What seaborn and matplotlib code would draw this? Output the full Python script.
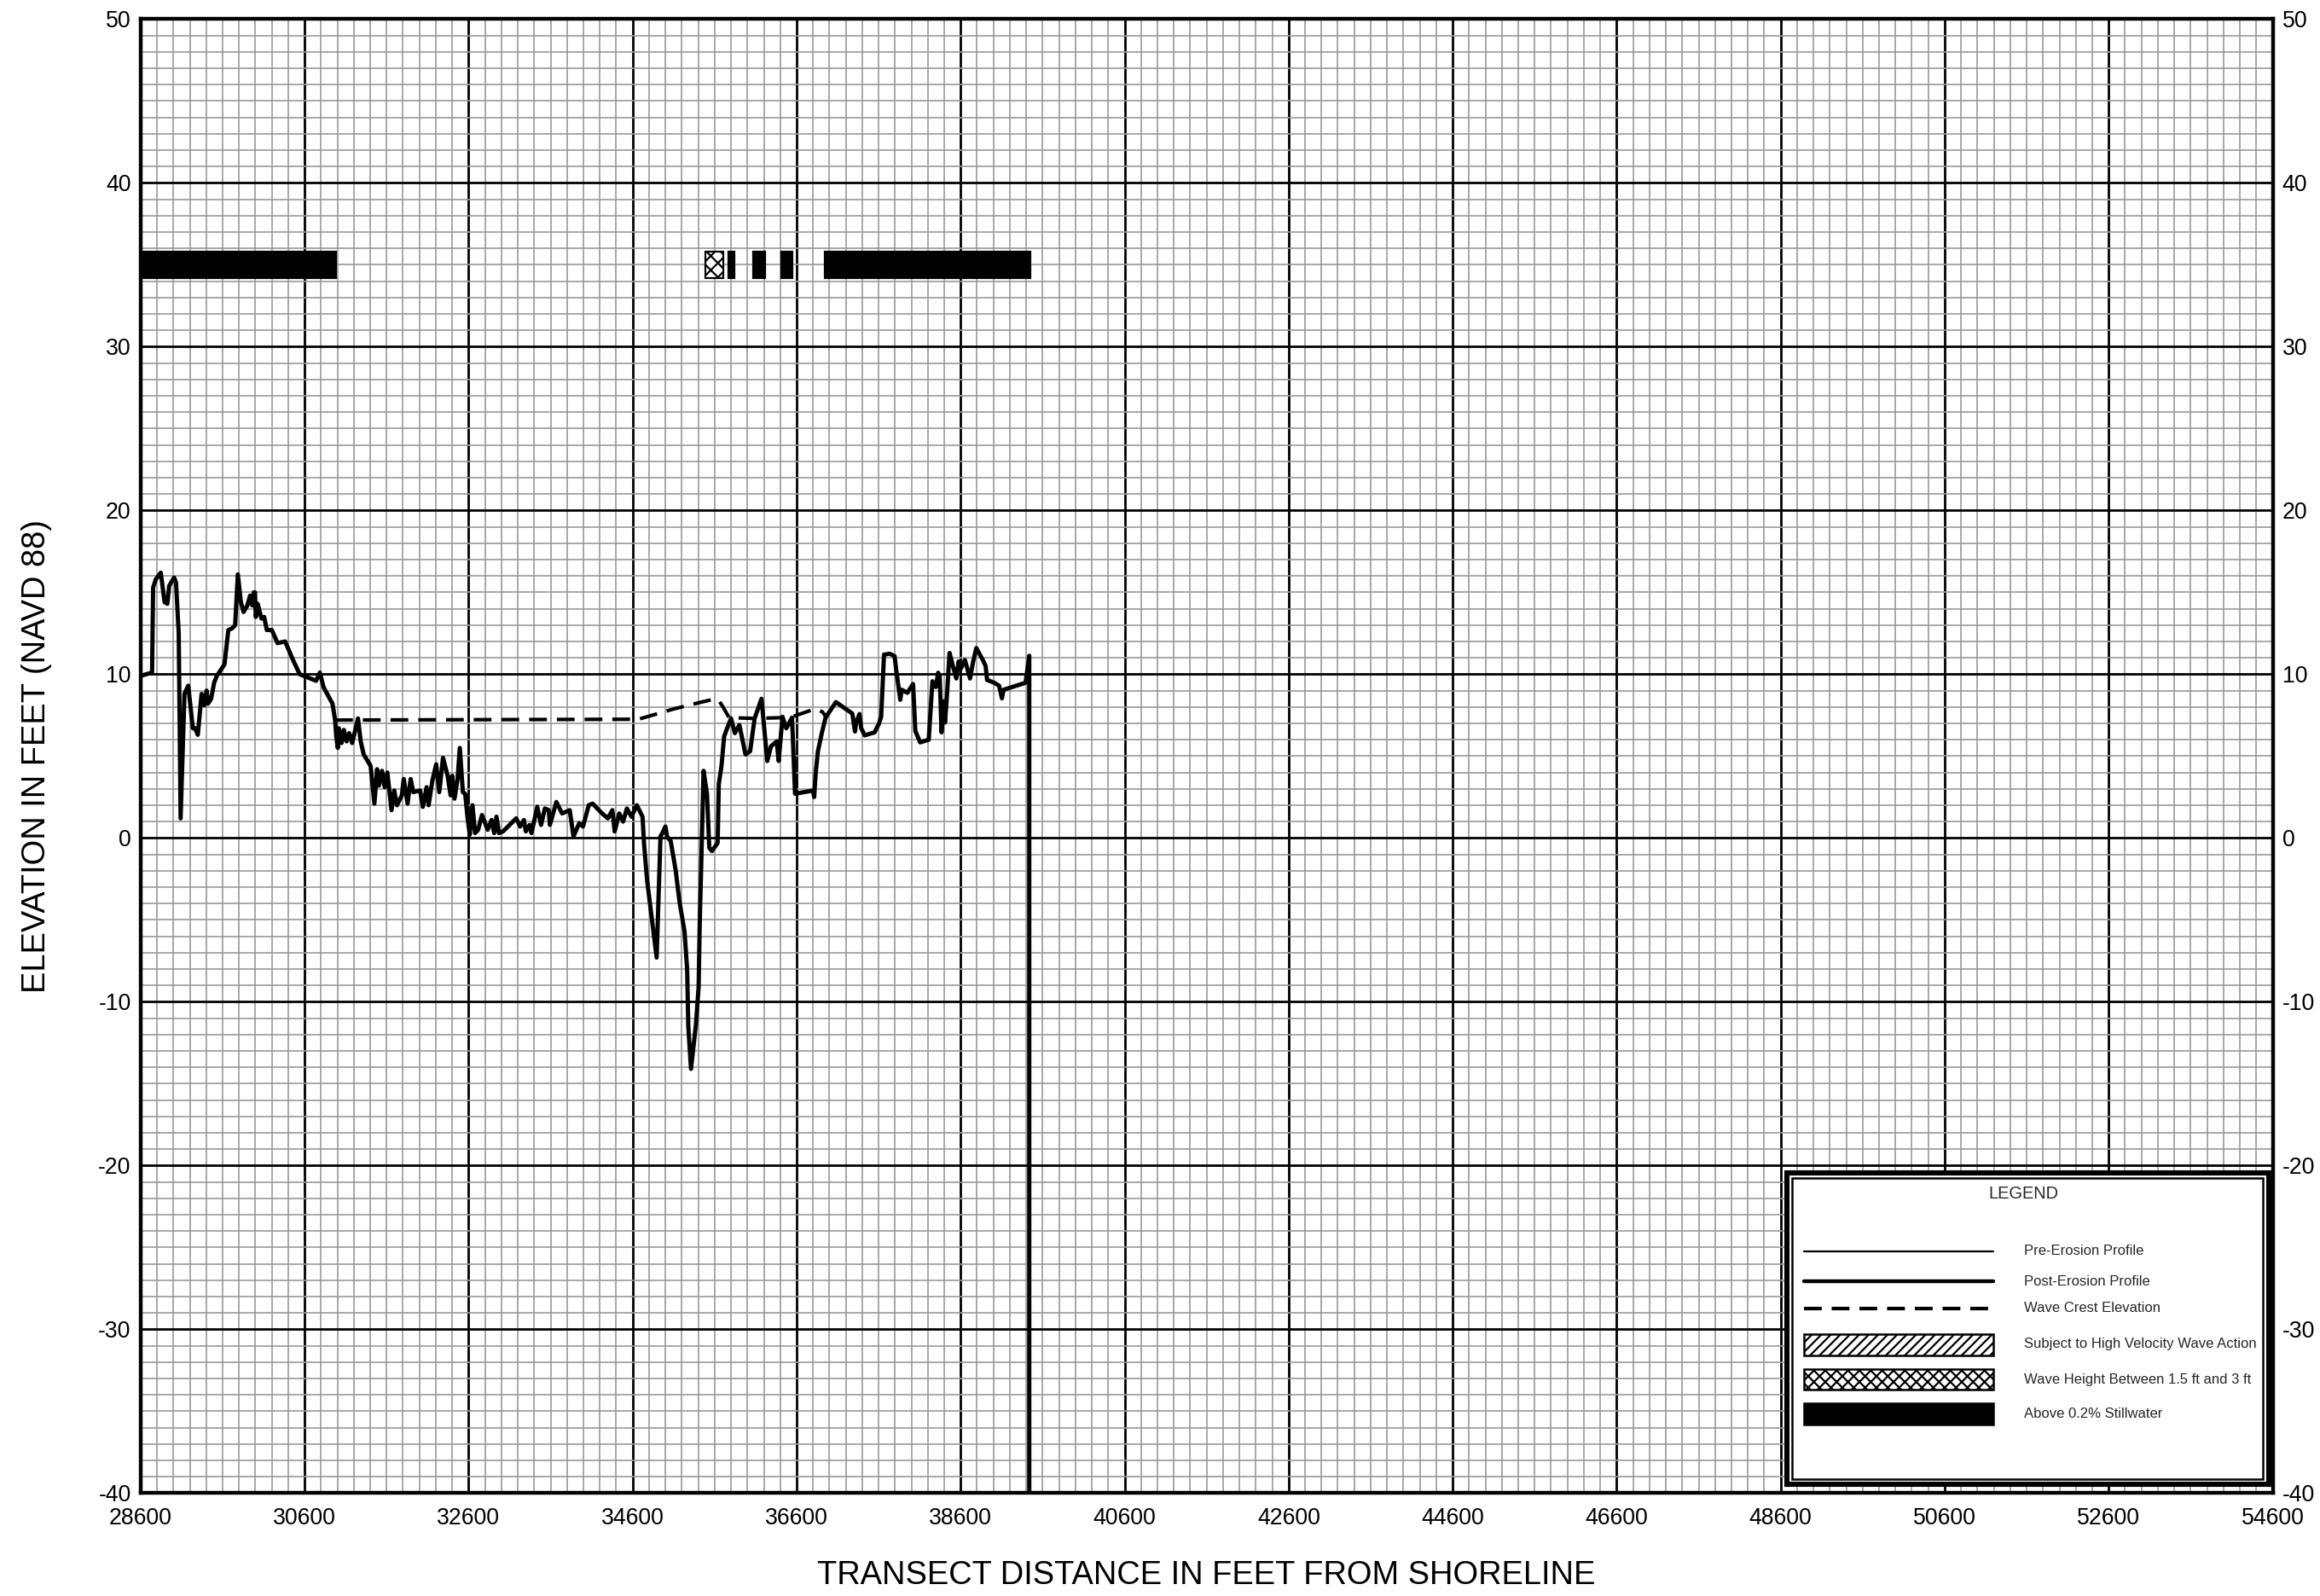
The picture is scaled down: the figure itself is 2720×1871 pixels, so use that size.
import numpy as np
import pandas as pd
import matplotlib
matplotlib.use("Agg")
import matplotlib.pyplot as plt
from matplotlib.ticker import MultipleLocator
from matplotlib.patches import Rectangle
import seaborn as sns

# --- data ---
profile_x = [
    28600, 28740, 28753, 28786, 28846, 28893, 28926, 28949, 29009, 29032,
    29065, 29088, 29135, 29181, 29237, 29265, 29298, 29344, 29377, 29405,
    29423, 29460, 29498, 29530, 29623, 29670, 29716, 29753, 29786, 29823,
    29856, 29902, 29935, 29963, 29981, 29995, 30005, 30028, 30074, 30107,
    30139, 30200, 30270, 30363, 30456, 30540, 30740, 30786, 30832, 30940,
    30972, 30986, 31005, 31019, 31051, 31079, 31112, 31144, 31180, 31251,
    31284, 31321, 31405, 31451, 31484, 31507, 31544, 31577, 31609, 31660,
    31693, 31726, 31786, 31809, 31856, 31893, 31926, 32009, 32042, 32088,
    32112, 32158, 32205, 32242, 32288, 32344, 32381, 32400, 32428, 32465,
    32493, 32530, 32558, 32586, 32614, 32647, 32679, 32716, 32763, 32833,
    32880, 32912, 32940, 32970, 33019, 33181, 33228, 33274, 33298, 33344,
    33367, 33437, 33484, 33530, 33577, 33591, 33670, 33740, 33833, 33879,
    33949, 33995, 34065, 34112, 34228, 34298, 34353, 34381, 34437, 34484,
    34530, 34586, 34651, 34721, 34740, 34777, 34893, 34940, 34963, 35000,
    35020, 35065, 35126, 35172, 35233, 35265, 35279, 35312, 35372, 35405,
    35419, 35437, 35465, 35507, 35535, 35567, 35637, 35651, 35684, 35716,
    35753, 35800, 35847, 35902, 35977, 36033, 36088, 36172, 36242, 36288,
    36358, 36381, 36428, 36474, 36544, 36581, 36800, 36814, 36833, 36860,
    36907, 36953, 37079, 37279, 37312, 37326, 37367, 37388, 37430, 37551,
    37603, 37631, 37666, 37736, 37795, 37812, 37864, 37881, 37951, 38020,
    38048, 38107, 38211, 38256, 38298, 38326, 38345, 38367, 38395, 38409,
    38430, 38465, 38506, 38548, 38576, 38603, 38652, 38715, 38750, 38791,
    38871, 38905, 38923, 39010, 39069, 39104, 39124, 39392, 39437, 39437,
]
profile_y = [
    9.9, 10.1, 15.3, 15.8, 16.2, 14.4, 14.3, 15.4, 15.9, 15.6,
    12.5, 1.2, 8.8, 9.3, 6.7, 6.7, 6.3, 8.8, 8.1, 9.0,
    8.2, 8.5, 9.5, 9.9, 10.6, 12.7, 12.8, 13.0, 16.1, 14.4,
    13.8, 14.2, 14.8, 14.2, 15.0, 15.0, 13.5, 14.3, 13.4, 13.5,
    12.7, 12.7, 11.9, 12.0, 10.9, 10.0, 9.6, 10.1, 9.2, 8.2,
    7.2, 6.2, 5.5, 6.7, 5.8, 6.6, 5.9, 6.4, 5.8, 7.3,
    5.9, 5.1, 4.4, 2.1, 4.2, 3.2, 4.1, 3.1, 4.0, 1.7,
    2.9, 2.0, 2.6, 3.6, 2.1, 3.6, 2.8, 2.9, 1.9, 3.1,
    2.0, 3.5, 4.5, 2.8, 4.9, 3.8, 2.6, 3.8, 2.4, 3.6,
    5.5, 2.8, 2.7, 1.3, 0.2, 2.0, 0.3, 0.5, 1.4, 0.5,
    1.1, 0.3, 1.3, 0.3, 0.4, 1.2, 0.7, 1.1, 0.4, 0.8,
    0.3, 1.9, 0.8, 1.8, 1.7, 0.8, 2.2, 1.5, 1.7, 0.1,
    0.9, 0.7, 2.0, 2.1, 1.5, 1.2, 1.7, 0.4, 1.5, 1.0,
    1.8, 1.3, 2.0, 1.3, -0.4, -2.6, -7.3, 0.1, 0.3, 0.7,
    0.1, -0.2, -2.0, -3.9, -5.7, -8.0, -11.5, -14.1, -11.4, -9.1,
    -5.1, -1.6, 4.1, 2.7, -0.6, -0.8, -0.3, 3.3, 4.4, 6.2,
    6.7, 7.3, 6.4, 6.9, 5.1, 5.3, 7.3, 8.5, 4.7, 5.6,
    5.9, 4.7, 7.4, 6.7, 7.35, 2.7, 2.9, 2.5, 4.0, 5.3,
    6.4, 7.35, 8.3, 7.6, 6.5, 7.05, 7.57, 6.7, 6.27, 6.45,
    6.97, 7.4, 11.2, 11.25, 11.1, 10.35, 8.44, 9.05, 8.87, 9.4,
    6.53, 5.84, 6.0, 9.57, 9.22, 10.09, 9.9, 6.45, 8.35, 7.05,
    8.44, 11.3, 10.5, 9.74, 10.78, 10.35, 10.87, 9.74, 10.7, 11.6,
    10.87, 10.5, 9.65, 9.48, 9.3, 8.53, 9.05, 9.48, 11.13, -40.0,
]

wave_x = [30972, 34600, 34684, 35102, 35335, 35567, 35651, 35707, 35777,
          36088, 36428, 36544, 36823, 36916, 36963]
wave_y = [7.2, 7.25, 7.27, 7.88, 8.17, 8.45, 8.4, 7.96, 7.35,
          7.3, 7.35, 7.4, 7.88, 7.7, 7.35]

# zone bars along the top (start, end) in feet
stillwater_zones = [(28600, 30980), (35770, 35840), (36073, 36219),
                    (36410, 36545), (36941, 39448)]
wave_height_zones = [(35490, 35703)]
zone_bottom, zone_top = 34.2, 35.8

x_ticks = list(range(28600, 54601, 2000))
y_ticks = list(range(-40, 51, 10))

legend_labels = ["Pre-Erosion Profile", "Post-Erosion Profile", "Wave Crest Elevation",
                 "Subject to High Velocity Wave Action",
                 "Wave Height Between 1.5 ft and 3 ft", "Above 0.2% Stillwater"]

sns.set_theme(style="white")
plt.rcParams["font.family"] = ["Liberation Sans", "DejaVu Sans"]
plt.rcParams["axes.unicode_minus"] = False
plt.rcParams["hatch.linewidth"] = 0.8

fig = plt.figure(figsize=(13.6, 9.355), dpi=200)
ax = fig.add_axes([0.0606, 0.0645, 0.9190, 0.9235])

df_prof = pd.DataFrame({"x": profile_x, "y": profile_y})
df_wave = pd.DataFrame({"x": wave_x, "y": wave_y})

dash = (0, (5.0, 2.8))
sns.lineplot(data=df_prof, x="x", y="y", sort=False, estimator=None,
             color="black", linewidth=1.8, ax=ax, zorder=4)
sns.lineplot(data=df_wave, x="x", y="y", sort=False, estimator=None,
             color="black", linewidth=1.5, linestyle=dash, ax=ax, zorder=4)

for x0, x1 in stillwater_zones:
    ax.add_patch(Rectangle((x0, zone_bottom), x1 - x0, zone_top - zone_bottom,
                           facecolor="black", edgecolor="black", lw=0.8, zorder=5))
for x0, x1 in wave_height_zones:
    ax.add_patch(Rectangle((x0, zone_bottom), x1 - x0, zone_top - zone_bottom,
                           facecolor="white", edgecolor="black", hatch="xxxx",
                           lw=0.8, zorder=5))

ax.set_xlim(28600, 54600)
ax.set_ylim(-40, 50)
ax.set_xticks(x_ticks)
ax.set_yticks(y_ticks)
ax.xaxis.set_minor_locator(MultipleLocator(200))
ax.yaxis.set_minor_locator(MultipleLocator(1))
ax.set_axisbelow(True)
ax.grid(which="minor", color="#9a9a9a", linewidth=0.6)
ax.grid(which="major", color="black", linewidth=1.0)
ax.tick_params(which="both", length=0)
ax.tick_params(axis="x", labelsize=9.6, pad=6, colors="black")
ax.tick_params(axis="y", labelsize=9.6, pad=4, colors="black",
               left=True, right=True, labelleft=True, labelright=True)
for s in ax.spines.values():
    s.set_color("black")
    s.set_linewidth(1.6)

ax.set_xlabel("TRANSECT DISTANCE IN FEET FROM SHORELINE", fontsize=13.7, color="black")
ax.set_ylabel("ELEVATION IN FEET (NAVD 88)", fontsize=13.7, color="black")
ax.xaxis.label.set_va("center")
ax.yaxis.label.set_va("center")
ax.xaxis.set_label_coords(0.5, -0.056)
ax.yaxis.set_label_coords(-0.0487, 0.5)

# legend box drawn in axes fraction
T = ax.transAxes
ax.add_patch(Rectangle((0.772, 0.006), 0.226, 0.211, transform=T, facecolor="white",
                       edgecolor="black", lw=2.2, zorder=6))
ax.add_patch(Rectangle((0.7745, 0.0095), 0.221, 0.204, transform=T, facecolor="none",
                       edgecolor="black", lw=0.9, zorder=6))
ax.text(0.883, 0.203, "LEGEND", transform=T, fontsize=7.2, ha="center", va="center",
        zorder=7)
lx0, lx1, tx = 0.780, 0.869, 0.8835
ax.plot([lx0, lx1], [0.164, 0.164], transform=T, color="black", lw=0.8, zorder=7)
ax.plot([lx0, lx1], [0.1437, 0.1437], transform=T, color="black", lw=1.6, zorder=7)
ax.plot([lx0, lx1], [0.125, 0.125], transform=T, color="black", lw=1.5,
        linestyle=dash, zorder=7)
ax.add_patch(Rectangle((lx0, 0.0932), lx1 - lx0, 0.0145, transform=T, facecolor="white",
                       edgecolor="black", hatch="//////", lw=0.9, zorder=7))
ax.add_patch(Rectangle((lx0, 0.0702), lx1 - lx0, 0.0139, transform=T, facecolor="white",
                       edgecolor="black", hatch="xxxxx", lw=0.9, zorder=7))
ax.add_patch(Rectangle((lx0, 0.0465), lx1 - lx0, 0.0145, transform=T, facecolor="black",
                       edgecolor="black", lw=0.9, zorder=7))
for lab, yy in zip(legend_labels, [0.1645, 0.1437, 0.1257, 0.1014, 0.0771, 0.0540]):
    ax.text(tx, yy, lab, transform=T, fontsize=6.0, ha="left", va="center", zorder=7)

fig.savefig("out.png", dpi=200, facecolor="white")
